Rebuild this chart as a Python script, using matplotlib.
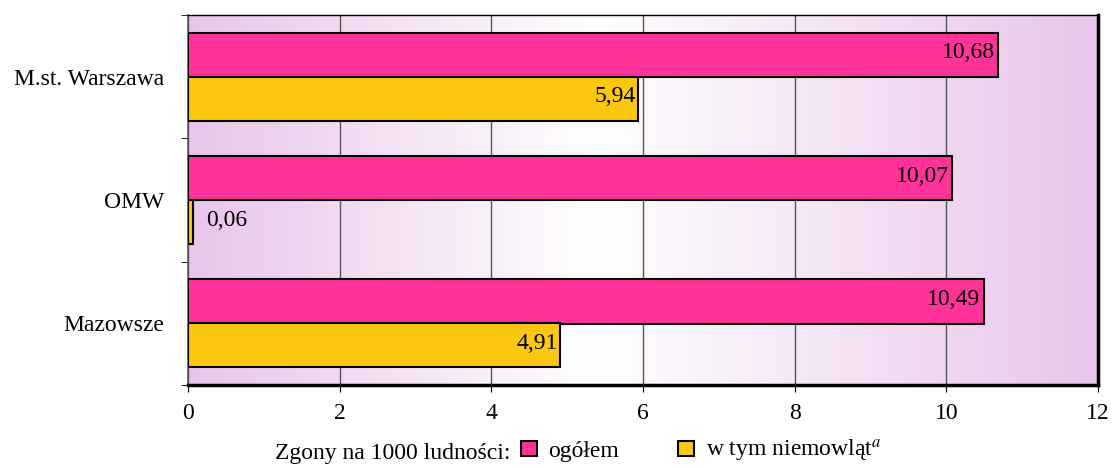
import numpy as np
import matplotlib.pyplot as plt
from matplotlib.colors import LinearSegmentedColormap
from matplotlib.patches import Patch

plt.rcParams['font.family'] = ['Liberation Serif', 'DejaVu Serif']
plt.rcParams['font.size'] = 17
plt.rcParams['mathtext.fontset'] = 'stix'

categories = ["M.st. Warszawa", "OMW", "Mazowsze"]
ogolem = [10.68, 10.07, 10.49]
niemowlat = [5.94, 0.06, 4.91]
xticks = [0, 2, 4, 6, 8, 10, 12]

pink = "#FF3399"
yellow = "#FCC70F"

fig = plt.figure(figsize=(11.16, 4.68), dpi=100)
ax = fig.add_axes([0.1685, 0.177, 0.8154, 0.791])

# background gradient, purple at the sides, white in the middle
bg = LinearSegmentedColormap.from_list("bg", [(0, "#E8C6EA"), (0.45, "#FFFFFF"), (1, "#E8C6EA")])
ax.imshow(np.linspace(0, 1, 256).reshape(1, -1), cmap=bg, aspect="auto",
          extent=(0, 12, 2.5, -0.5), zorder=0)

y = np.arange(len(categories))
h = 0.357
off = 0.178
b1 = ax.barh(y - off, ogolem, height=h, color=pink, edgecolor="black", linewidth=1.5, zorder=3)
b2 = ax.barh(y + off, niemowlat, height=h, color=yellow, edgecolor="black", linewidth=1.5, zorder=3)

for bars in (b1, b2):
    for r in bars:
        v = r.get_width()
        txt = f"{v:.2f}".replace(".", ",")
        yc = r.get_y() + r.get_height() / 2
        if v > 1:
            ax.annotate(txt, (v, yc), xytext=(-3, 2), textcoords="offset pixels",
                        ha="right", va="center", fontsize=17, zorder=4)
        else:
            ax.annotate(txt, (v, yc), xytext=(14, 2), textcoords="offset pixels",
                        ha="left", va="center", fontsize=17, zorder=4)

ax.set_xlim(0, 12)
ax.set_ylim(2.5, -0.5)
ax.set_xticks(xticks)
ax.set_xticklabels([str(t) for t in xticks])
ax.set_yticks(y)
ax.set_yticklabels(categories, va="center_baseline")
ax.set_yticks([-0.5, 0.5, 1.5, 2.5], minor=True)
ax.tick_params(axis="y", which="major", length=0, pad=17)
ax.tick_params(axis="y", which="minor", length=5, direction="out")
ax.tick_params(axis="x", length=5, direction="out", pad=8)

ax.grid(axis="x", color="#555555", linewidth=1, zorder=1)
ax.set_axisbelow(True)

ax.spines["bottom"].set_linewidth(2.5)
ax.spines["right"].set_linewidth(2.5)
ax.spines["top"].set_linewidth(1)
ax.spines["left"].set_linewidth(1.2)
ax.spines["left"].set_color("#6a4a6a")

fig.text(275 / 1116, 1 - 453 / 468, "Zgony na 1000 ludności:", fontsize=17, va="center")
handles = [Patch(facecolor=pink, edgecolor="black", linewidth=1.5),
           Patch(facecolor=yellow, edgecolor="black", linewidth=1.5)]
labels = ["ogółem", r"w tym niemowląt$^{\mathit{a}}$"]
fig.legend(handles, labels, ncol=2, loc="center left", bbox_to_anchor=(512 / 1116, 1 - 451 / 468),
           frameon=False, fontsize=17, handlelength=0.65, handleheight=0.65,
           handletextpad=0.5, columnspacing=2.5, borderaxespad=0)

fig.savefig("out.png", dpi=100)
